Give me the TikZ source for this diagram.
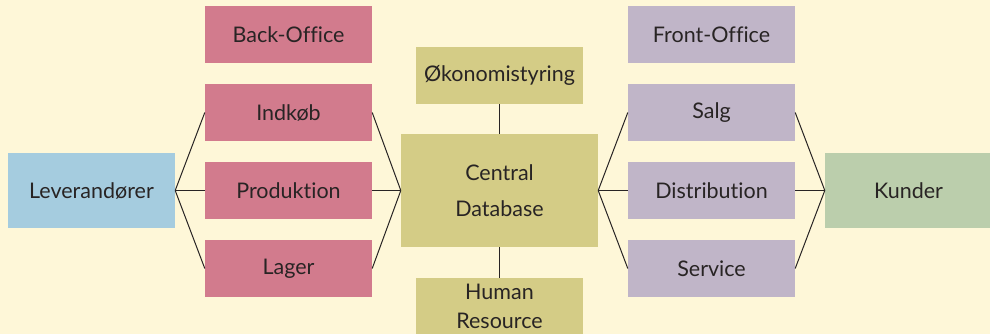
\documentclass[tikz,border=0pt]{standalone}
\usepackage{fontspec}
\setmainfont{Lato}[Ligatures=NoCommon]
\definecolor{bgcol}{RGB}{254,247,216}
\definecolor{backcol}{RGB}{210,123,141}
\definecolor{levcol}{RGB}{165,204,223}
\definecolor{dbcol}{RGB}{212,204,134}
\definecolor{frontcol}{RGB}{192,181,200}
\definecolor{kundecol}{RGB}{187,206,172}
\definecolor{ink}{RGB}{40,36,36}
\begin{document}
\begin{tikzpicture}[x=1pt,y=-1pt, every node/.style={inner sep=0pt,align=center,text=ink,font=\fontsize{21.5}{25}\selectfont},
box/.style={minimum width=167pt,minimum height=57pt},
back/.style={box,fill=backcol},front/.style={box,fill=frontcol},dbbox/.style={box,fill=dbcol},
link/.style={draw=ink,line width=1pt}]
\useasboundingbox[fill=bgcol] (0,0) rectangle (990,334);

% venstre side
\node[fill=levcol,minimum width=167pt,minimum height=75pt] (lev) at (91.5,190.5) {Leverandører};
\node[back] (backoffice) at (288.5,34.5) {Back-Office};
\node[back] (indkob) at (288.5,112.5) {Indkøb};
\node[back] (produktion) at (288.5,190.5) {Produktion};
\node[back] (lager) at (288.5,268.5) {Lager};

% midten
\node[dbbox] (okonomi) at (499.5,75.5) {Økonomistyring};
\node[fill=dbcol,minimum width=197pt,minimum height=113pt,font=\fontsize{21.5}{36}\selectfont] (central) at (499.5,190.5) {Central\\Database};
\node[dbbox,font=\fontsize{21.5}{29}\selectfont] (hr) at (499.5,306.5) {Human\\Resource};

% hoejre side
\node[front] (frontoffice) at (711.5,34.5) {Front-Office};
\node[front] (salg) at (711.5,112.5) {Salg};
\node[front] (distribution) at (711.5,190.5) {Distribution};
\node[front] (service) at (711.5,268.5) {Service};
\node[fill=kundecol,minimum width=167pt,minimum height=75pt] (kunder) at (908.5,190.5) {Kunder};

\foreach \n in {indkob,produktion,lager}{
\draw[link] (lev.east) -- (\n.west);
\draw[link] (\n.east) -- (central.west);
}
\foreach \n in {salg,distribution,service}{
\draw[link] (central.east) -- (\n.west);
\draw[link] (\n.east) -- (kunder.west);
}
\draw[link] (okonomi) -- (central);
\draw[link] (central) -- (hr);
\end{tikzpicture}
\end{document}
